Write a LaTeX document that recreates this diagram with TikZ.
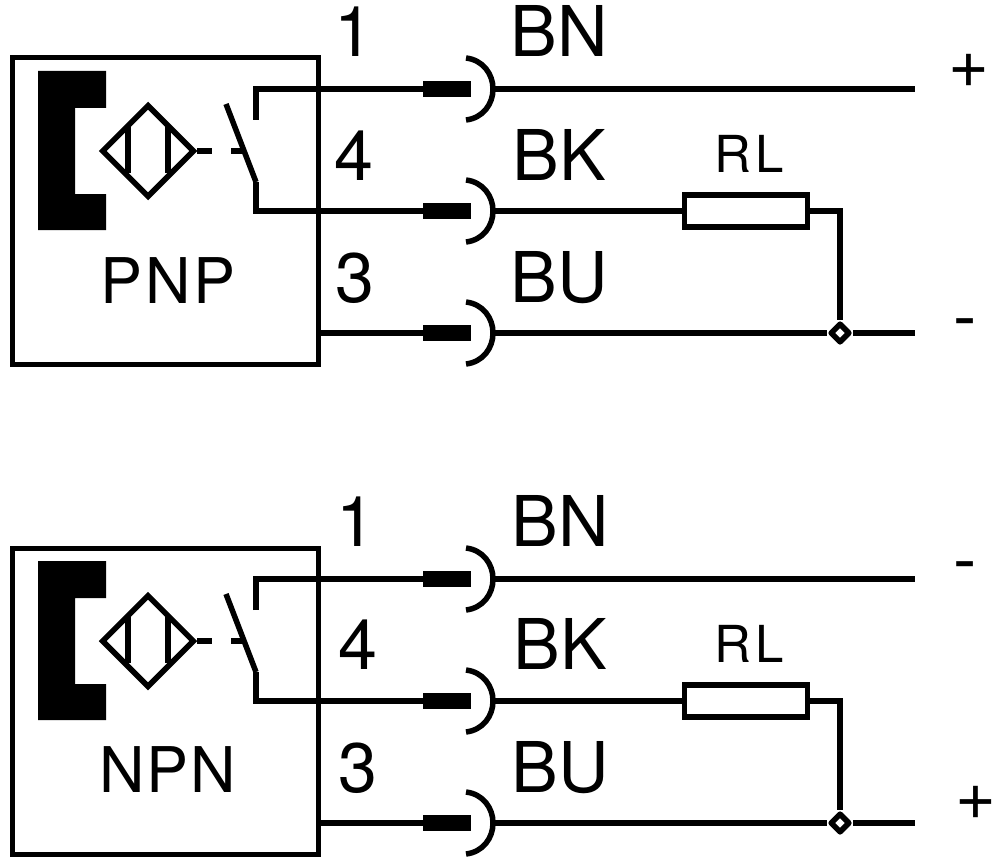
\documentclass[tikz,border=0pt]{standalone}
\usepackage{fontspec}
\setmainfont{TeX Gyre Heros}
\usetikzlibrary{shapes.geometric}

\tikzset{
  wire/.style={line width=5.5pt},
  housing/.style={draw, line width=5pt, minimum width=306pt, minimum height=306pt, inner sep=0pt},
  face/.style={fill=black, draw=none},
  sensor/.style={draw, diamond, aspect=1, line width=5.5pt, minimum size=93pt, inner sep=0pt},
  pin/.style={fill=black, minimum width=48pt, minimum height=16pt, inner sep=0pt},
  load/.style={draw, fill=white, line width=5.5pt, minimum width=123pt, minimum height=32pt, inner sep=0pt},
  joint/.style={draw, diamond, fill=white, line width=5.5pt, line join=round, minimum size=20pt, inner sep=0pt},
  big/.style={anchor=base, inner sep=0pt, font=\fontsize{70}{70}\selectfont},
  mid/.style={anchor=base, inner sep=0pt, font=\fontsize{63}{63}\selectfont},
  small/.style={anchor=base, inner sep=0pt, font=\fontsize{51}{51}\selectfont},
  socket/.pic={\draw[wire] (-27,-31) .. controls (-10,-29) and (0,-15) .. (0,0) .. controls (0,15) and (-10,29) .. (-27,31);}
}

\begin{document}
\begin{tikzpicture}[x=1pt, y=-1pt]
  \useasboundingbox (0,0) rectangle (1000,861);

  % PNP
  \node[housing] (boxA) at (165,211) {};
  \fill[face] (38,71) -- (106,71) -- (106,108) -- (75,108) -- (75,194) -- (106,194) -- (106,230) -- (38,230) -- cycle;
  \node[sensor] (senseA) at (148,151) {};
  \draw[wire] (128,127) -- (128,173);
  \draw[wire] (168,127) -- (168,173);
  \draw[wire] (senseA.east) -- (212,151);
  \draw[wire] (231,151) -- (243,151);

  \coordinate (openA) at (256,120);
  \coordinate (tipA) at (226,104);
  \coordinate (hingeA) at (256,182);
  \draw[wire] (tipA) -- (hingeA);

  \node[pin] (A1) at (447,89) {};
  \node[pin] (A2) at (447,211) {};
  \node[pin] (A3) at (447,333) {};
  \coordinate (SA1) at (493,89);
  \coordinate (SA2) at (493,211);
  \coordinate (SA3) at (493,333);
  \pic at (SA1) {socket};
  \pic at (SA2) {socket};
  \pic at (SA3) {socket};

  \draw[wire] (openA) |- (A1);
  \draw[wire] (hingeA) |- (A2);
  \draw[wire] (boxA.east |- A3) -- (A3);

  \coordinate (EA1) at (915,89);
  \coordinate (EA3) at (915,333);
  \node[load] (RA) at (746,211) {};
  \node[joint] (JA) at (840,333) {};
  \draw[wire] (SA1) -- (EA1);
  \draw[wire] (SA2) -- (RA);
  \draw[wire] (RA) -| (JA);
  \draw[wire] (SA3) -- (JA);
  \draw[wire] (JA) -- (EA3);

  \node[big] (n1A) at (354,57) {1};
  \node[big] (n4A) at (354,180) {4};
  \node[big] (n3A) at (355,302) {3};
  \node[big] (cBNA) at (559,57) {BN};
  \node[big] (cBKA) at (559,180) {BK};
  \node[big] (cBUA) at (559,302) {BU};
  \node[small] (rlA) at (749,172) {R\kern4pt L};
  \node[mid] (typeA) at (168,303) {P\kern3pt N\kern3pt P};
  \node[big] (plusA) at (969,88) {+};
  \node[big] (minusA) at (965,340) {-};

  % NPN
  \begin{scope}[yshift=-490pt]
  \node[housing] (boxB) at (165,211) {};
  \fill[face] (38,71) -- (106,71) -- (106,108) -- (75,108) -- (75,194) -- (106,194) -- (106,230) -- (38,230) -- cycle;
  \node[sensor] (senseB) at (148,151) {};
  \draw[wire] (128,127) -- (128,173);
  \draw[wire] (168,127) -- (168,173);
  \draw[wire] (senseB.east) -- (212,151);
  \draw[wire] (231,151) -- (243,151);

  \coordinate (openB) at (256,120);
  \coordinate (tipB) at (226,104);
  \coordinate (hingeB) at (256,182);
  \draw[wire] (tipB) -- (hingeB);

  \node[pin] (B1) at (447,89) {};
  \node[pin] (B2) at (447,211) {};
  \node[pin] (B3) at (447,333) {};
  \coordinate (SB1) at (493,89);
  \coordinate (SB2) at (493,211);
  \coordinate (SB3) at (493,333);
  \pic at (SB1) {socket};
  \pic at (SB2) {socket};
  \pic at (SB3) {socket};

  \draw[wire] (openB) |- (B1);
  \draw[wire] (hingeB) |- (B2);
  \draw[wire] (boxB.east |- B3) -- (B3);

  \coordinate (EB1) at (915,89);
  \coordinate (EB3) at (915,333);
  \node[load] (RB) at (746,211) {};
  \node[joint] (JB) at (840,333) {};
  \draw[wire] (SB1) -- (EB1);
  \draw[wire] (SB2) -- (RB);
  \draw[wire] (RB) -| (JB);
  \draw[wire] (SB3) -- (JB);
  \draw[wire] (JB) -- (EB3);

  \node[big] (n1B) at (356,56) {1};
  \node[big] (n4B) at (358,179) {4};
  \node[big] (n3B) at (358,302) {3};
  \node[big] (cBNB) at (560,56) {BN};
  \node[big] (cBKB) at (560,179) {BK};
  \node[big] (cBUB) at (560,302) {BU};
  \node[small] (rlB) at (749,172) {R\kern4pt L};
  \node[mid] (typeB) at (168,302) {N\kern2pt P\kern2pt N};
  \node[big] (plusB) at (976,329) {+};
  \node[big] (minusB) at (965,93) {-};
  \end{scope}
\end{tikzpicture}
\end{document}
